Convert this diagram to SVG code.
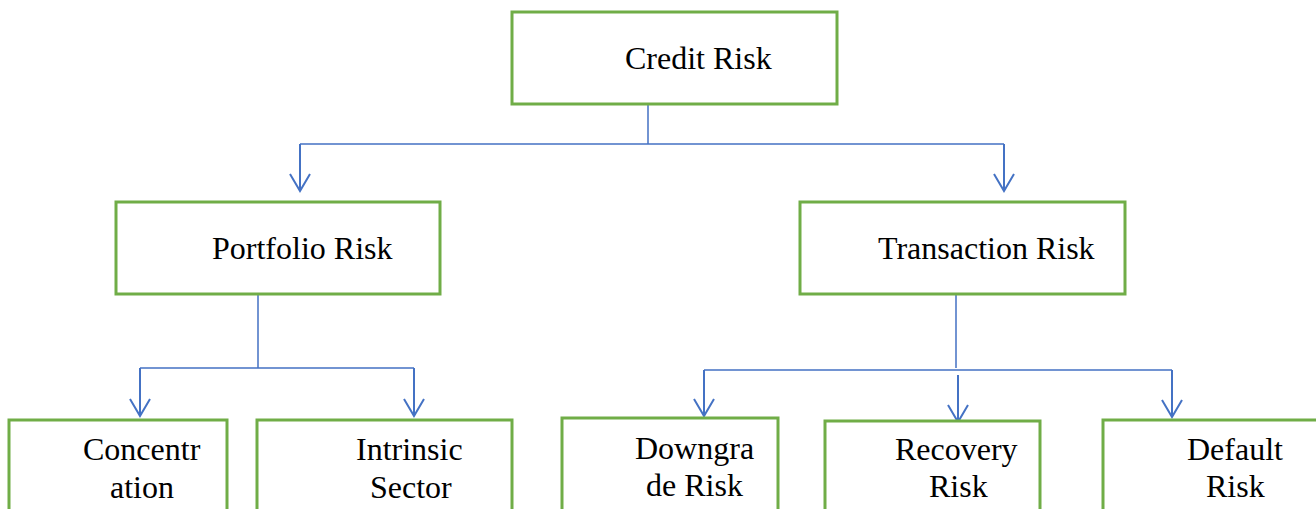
<svg xmlns="http://www.w3.org/2000/svg" width="1316" height="509" viewBox="0 0 1316 509">
<style>
.box{fill:#fff;stroke:#70AD47;stroke-width:3}
.lbl{font-family:"Liberation Serif","Times New Roman",serif;font-size:32px;fill:#000}
.ln{fill:none;stroke:#4472C4;stroke-width:1.5}
.ar{fill:none;stroke:#4472C4;stroke-width:2;marker-end:url(#arr)}
</style>
<defs>
<marker id="arr" markerUnits="userSpaceOnUse" markerWidth="20" markerHeight="24" refX="0" refY="0" orient="auto" overflow="visible">
<path d="M-17,-10 L0,0 L-17,10" fill="none" stroke="#4472C4" stroke-width="2"/>
</marker>
</defs>
<rect width="1316" height="509" fill="#fff"/>
<g id="connectors">
<path class="ln" d="M648,104 V144 M300,144 H1004 M258,294 V368 M140,368 H414 M956,294 V368 M704,370 H1172"/>
<path class="ar" d="M300,144 V191"/>
<path class="ar" d="M1004,144 V191"/>
<path class="ar" d="M140,368 V416"/>
<path class="ar" d="M414,368 V416"/>
<path class="ar" d="M704,370 V416"/>
<path class="ar" d="M958,375 V422"/>
<path class="ar" d="M1172,370 V417"/>
</g>
<g id="credit-risk">
<rect class="box" x="512" y="12" width="325" height="92"/>
<text class="lbl" x="625" y="69">Credit Risk</text>
</g>
<g id="portfolio-risk">
<rect class="box" x="116" y="202" width="324" height="92"/>
<text class="lbl" x="212" y="259">Portfolio Risk</text>
</g>
<g id="transaction-risk">
<rect class="box" x="800" y="202" width="325" height="92"/>
<text class="lbl" x="878" y="259">Transaction Risk</text>
</g>
<g id="concentration">
<rect class="box" x="9" y="420" width="218" height="120"/>
<text class="lbl" x="83" y="460">Concentr</text>
<text class="lbl" x="110" y="498">ation</text>
</g>
<g id="intrinsic-sector">
<rect class="box" x="257" y="420" width="255" height="120"/>
<text class="lbl" x="356" y="460">Intrinsic</text>
<text class="lbl" x="370" y="498">Sector</text>
</g>
<g id="downgrade-risk">
<rect class="box" x="562" y="418" width="216" height="120"/>
<text class="lbl" x="635" y="459">Downgra</text>
<text class="lbl" x="646" y="496">de Risk</text>
</g>
<g id="recovery-risk">
<rect class="box" x="825" y="421" width="215" height="120"/>
<text class="lbl" x="895" y="460">Recovery</text>
<text class="lbl" x="929" y="497">Risk</text>
</g>
<g id="default-risk">
<rect class="box" x="1103" y="420" width="230" height="120"/>
<text class="lbl" x="1187" y="460">Default</text>
<text class="lbl" x="1206" y="497">Risk</text>
</g>
</svg>
